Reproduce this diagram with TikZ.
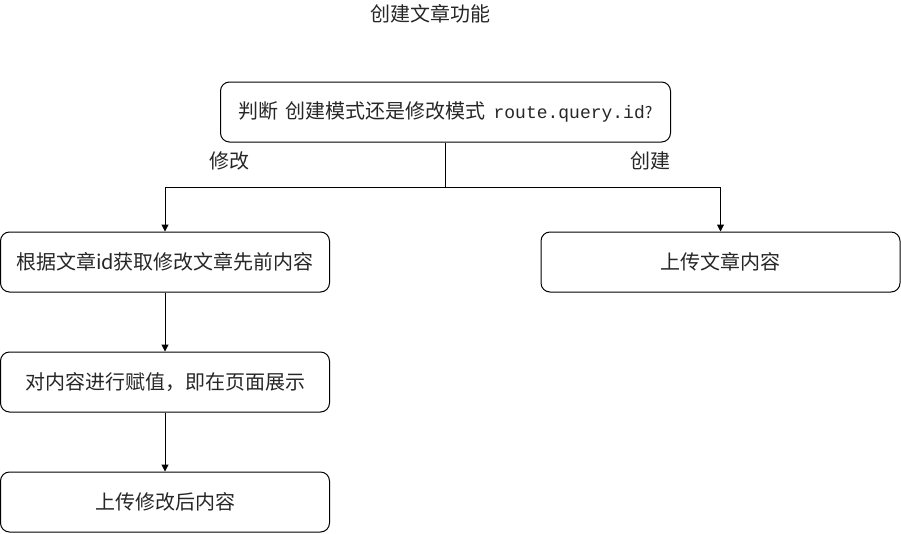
\documentclass[tikz,border=0pt]{standalone}
\usepackage{fontspec}
\setmainfont{Noto Sans CJK SC}
\setmonofont{Liberation Mono}
\usetikzlibrary{arrows.meta}
\tikzset{
  box/.style={draw=black, line width=1pt, rounded corners=9pt, rectangle, inner sep=0pt,
    minimum height=60pt, font=\fontsize{20pt}{24pt}\selectfont, text=black!85},
  lbl/.style={inner sep=0pt, font=\fontsize{20pt}{24pt}\selectfont, text=black!85},
  arr/.style={line width=1pt, -{Triangle[length=7pt,width=7pt]}},
  ln/.style={line width=1pt}
}
\begin{document}
\begin{tikzpicture}[x=1pt,y=-1pt]
\useasboundingbox (0,0) rectangle (901,533);
\node[lbl] (title) at (430,14) {创建文章功能};
\node[box, minimum width=450pt] (top) at (445.5,112) {判断\hspace{7pt}创建模式还是修改模式\hspace{8pt}{\fontsize{18pt}{22pt}\selectfont\ttfamily route.query.id}{\fontsize{16pt}{22pt}\selectfont ?}\hspace{22pt}};
\node[box, minimum width=329pt] (b1) at (165,262) {根据文章id获取修改文章先前内容};
\node[box, minimum width=359pt] (r1) at (720.5,262) {上传文章内容};
\node[box, minimum width=329pt] (b2) at (165,382) {对内容进行赋值，即在页面展示};
\node[box, minimum width=329pt] (b3) at (165,502) {上传修改后内容};
\node[lbl] (lm) at (229.5,161) {修改};
\node[lbl] (lc) at (650,161) {创建};
\coordinate (j) at (445.5,187);
\draw[ln] (top.south) -- (j);
\draw[arr] (j) -| (b1.north);
\draw[arr] (j) -| (r1.north);
\draw[arr] (b1.south) -- (b2.north);
\draw[arr] (b2.south) -- (b3.north);
\end{tikzpicture}
\end{document}
